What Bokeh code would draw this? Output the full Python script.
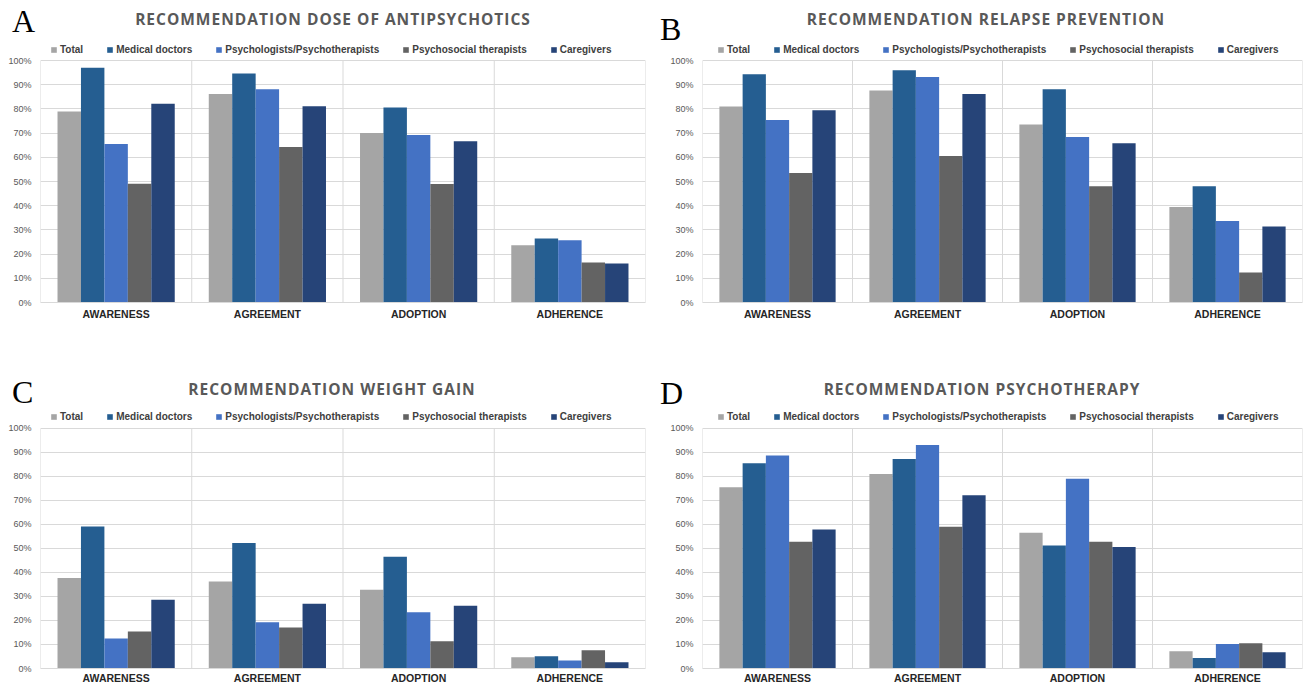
from bokeh.plotting import figure
from bokeh.models import (ColumnDataSource, Legend, LegendItem, FixedTicker,
                          NumeralTickFormatter, Range1d, Div)
from bokeh.layouts import column, row
from bokeh.transform import dodge
from bokeh.embed import file_html
from bokeh.resources import INLINE

# ---------------- data ----------------
categories = ["AWARENESS", "AGREEMENT", "ADOPTION", "ADHERENCE"]
groups = ["Total", "Medical doctors", "Psychologists/Psychotherapists",
          "Psychosocial therapists", "Caregivers"]
group_colors = ["#A5A5A5", "#255E91", "#4472C4", "#636363", "#264478"]

# A: dose of antipsychotics
dose_total = [0.79, 0.862, 0.701, 0.237]
dose_medical = [0.97, 0.947, 0.806, 0.265]
dose_psychologists = [0.655, 0.882, 0.692, 0.257]
dose_psychosocial = [0.491, 0.643, 0.49, 0.165]
dose_caregivers = [0.822, 0.811, 0.667, 0.161]

# B: relapse prevention
relapse_total = [0.81, 0.876, 0.736, 0.395]
relapse_medical = [0.943, 0.96, 0.882, 0.481]
relapse_psychologists = [0.754, 0.932, 0.684, 0.337]
relapse_psychosocial = [0.535, 0.606, 0.481, 0.124]
relapse_caregivers = [0.795, 0.862, 0.658, 0.314]

# C: weight gain
weight_total = [0.377, 0.362, 0.328, 0.047]
weight_medical = [0.592, 0.523, 0.466, 0.051]
weight_psychologists = [0.125, 0.193, 0.234, 0.033]
weight_psychosocial = [0.154, 0.171, 0.113, 0.076]
weight_caregivers = [0.286, 0.27, 0.261, 0.026]

# D: psychotherapy
psycho_total = [0.755, 0.81, 0.565, 0.072]
psycho_medical = [0.855, 0.873, 0.512, 0.044]
psycho_psychologists = [0.887, 0.931, 0.79, 0.102]
psycho_psychosocial = [0.528, 0.59, 0.528, 0.105]
psycho_caregivers = [0.579, 0.722, 0.506, 0.068]

panel_letters = ["A", "B", "C", "D"]
panel_titles = ["RECOMMENDATION DOSE OF ANTIPSYCHOTICS",
                "RECOMMENDATION RELAPSE PREVENTION",
                "RECOMMENDATION WEIGHT GAIN",
                "RECOMMENDATION PSYCHOTHERAPY"]
panel_series = [
    [dose_total, dose_medical, dose_psychologists, dose_psychosocial, dose_caregivers],
    [relapse_total, relapse_medical, relapse_psychologists, relapse_psychosocial, relapse_caregivers],
    [weight_total, weight_medical, weight_psychologists, weight_psychosocial, weight_caregivers],
    [psycho_total, psycho_medical, psycho_psychologists, psycho_psychosocial, psycho_caregivers],
]

GRID = "#D9D9D9"
Y_TOP = 1.083   # headroom above 100% for the legend strip


def build(series, width, height, borders, legend_xy, xlabel_standoff):
    left, right, top, bottom = borders
    n = len(categories)
    p = figure(width=width, height=height, title=None,
               x_range=Range1d(0, n), y_range=Range1d(0, Y_TOP),
               output_backend="svg", toolbar_location=None,
               min_border_left=left, min_border_right=right,
               min_border_top=top, min_border_bottom=bottom)
    p.outline_line_color = None
    p.background_fill_color = "white"
    p.border_fill_color = "white"

    # category separators (Excel-style vertical gridlines between 0% and 100%)
    sep = ColumnDataSource({"x": list(range(n + 1)),
                            "y0": [0] * (n + 1), "y1": [1] * (n + 1)})
    p.segment(x0="x", y0="y0", x1="x", y1="y1", source=sep,
              line_color=GRID, line_width=1)

    centers = [i + 0.5 for i in range(n)]
    data = {"x": centers}
    for i, s in enumerate(series):
        data["s%d" % i] = s
    src = ColumnDataSource(data)

    bw = 0.155
    items = []
    for i, (g, col) in enumerate(zip(groups, group_colors)):
        r = p.vbar(x=dodge("x", (i - (len(groups) - 1) / 2) * bw), top="s%d" % i,
                   width=bw, bottom=0, source=src,
                   fill_color=col, line_color=None)
        items.append(LegendItem(label=g, renderers=[r]))

    legend = Legend(items=items, orientation="horizontal", location=legend_xy,
                    label_text_font="Liberation Sans", label_text_font_style="bold",
                    label_text_font_size="10px", label_text_color="#404040",
                    glyph_width=7, glyph_height=7, label_height=12,
                    label_standoff=3, spacing=23, padding=0, margin=0,
                    border_line_color=None, background_fill_alpha=0)
    p.add_layout(legend)

    # y axis
    p.yaxis.ticker = FixedTicker(ticks=[k / 10 for k in range(11)])
    p.yaxis.formatter = NumeralTickFormatter(format="0%")
    p.yaxis.axis_line_color = None
    p.yaxis.major_tick_line_color = None
    p.yaxis.minor_tick_line_color = None
    p.yaxis.major_tick_out = 0
    p.yaxis.major_tick_in = 0
    p.yaxis.minor_tick_out = 0
    p.yaxis.major_label_text_font = "Liberation Sans"
    p.yaxis.major_label_text_font_size = "9px"
    p.yaxis.major_label_text_color = "#595959"
    p.yaxis.major_label_standoff = 9

    # x axis
    p.xaxis.ticker = FixedTicker(ticks=centers)
    p.xaxis.major_label_overrides = {c: cat for c, cat in zip(centers, categories)}
    p.xaxis.axis_line_color = GRID
    p.xaxis.major_tick_line_color = None
    p.xaxis.minor_tick_line_color = None
    p.xaxis.major_tick_out = 0
    p.xaxis.major_tick_in = 0
    p.xaxis.minor_tick_out = 0
    p.xaxis.major_label_text_font = "Liberation Sans"
    p.xaxis.major_label_text_font_style = "bold"
    p.xaxis.major_label_text_font_size = "10.5px"
    p.xaxis.major_label_text_color = "#262626"
    p.xaxis.major_label_standoff = xlabel_standoff

    p.xgrid.grid_line_color = None
    p.ygrid.grid_line_color = GRID
    return p


def header(width, height, entries):
    """entries: (letter, letter_left, letter_top, title, title_center, title_top)"""
    parts = ['<div style="position:relative;width:%dpx;height:%dpx;">' % (width, height)]
    for letter, lx, ly, title, tx, ty in entries:
        parts.append(
            '<span style="position:absolute;left:%dpx;top:%dpx;'
            'font-family:\'Liberation Serif\',serif;font-size:32px;line-height:1;'
            'color:#000000;">%s</span>' % (lx, ly, letter))
        parts.append(
            '<span style="position:absolute;left:%dpx;top:%dpx;transform:translateX(-50%%);'
            'white-space:nowrap;font-family:\'Open Sans\',sans-serif;font-weight:bold;'
            'font-size:15.5px;letter-spacing:1px;line-height:1;color:#595959;">%s</span>'
            % (tx, ty, title))
    parts.append('</div>')
    return Div(text="".join(parts), width=width, height=height, margin=0)


TOTAL_W = 1304
head1 = header(TOTAL_W, 40, [
    (panel_letters[0], 12, 5, panel_titles[0], 333, 12),
    (panel_letters[1], 660, 13, panel_titles[1], 986, 12),
])
head2 = header(TOTAL_W, 64, [
    (panel_letters[2], 12, 32, panel_titles[2], 332, 38),
    (panel_letters[3], 660, 33, panel_titles[3], 982, 38),
])

pA = build(panel_series[0], 654, 304, (40, 9, 0, 42), (10, 247), 5)
pB = build(panel_series[1], 650, 304, (48, 2, 0, 42), (15, 247), 5)
pC = build(panel_series[2], 654, 278, (40, 9, 0, 16), (10, 246), 3)
pD = build(panel_series[3], 650, 278, (48, 2, 0, 16), (15, 246), 3)

layout = column(head1, row(pA, pB), head2, row(pC, pD))
open("out.html", "w").write(file_html(layout, INLINE, title="Recommendations"))
